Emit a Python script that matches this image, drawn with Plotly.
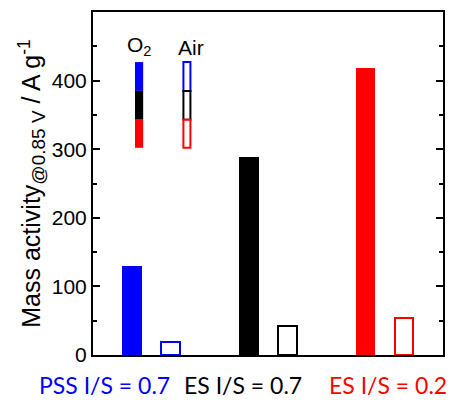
import plotly.graph_objects as go

categories = [1, 2, 3]
group_labels = ["PSS I/S = 0.7", "ES I/S = 0.7", "ES I/S = 0.2"]
group_colors = ["#0000ff", "#000000", "#ff0000"]
o2_values = [130, 289, 418]
air_values = [19, 43, 54]
y_ticks = [0, 100, 200, 300, 400, 500]

fig = go.Figure()
fig.add_trace(go.Bar(
    x=categories, y=o2_values, width=0.17, offset=-0.25,
    marker=dict(color=group_colors, line=dict(width=0)), showlegend=False))
fig.add_trace(go.Bar(
    x=categories, y=air_values, width=0.16, offset=0.085,
    marker=dict(color="white", line=dict(color=group_colors, width=2)), showlegend=False))

# legend inset
seg = [(427, 385), (385, 343), (343, 302)]
for (top, bot), c in zip(seg, group_colors):
    fig.add_shape(type="rect", xref="x", yref="y", x0=0.86, x1=0.93, y0=bot, y1=top,
                  fillcolor=c, line=dict(width=0), layer="above")
    fig.add_shape(type="rect", xref="x", yref="y", x0=1.275, x1=1.335, y0=bot, y1=top,
                  fillcolor="white", line=dict(color=c, width=2), layer="above")
fig.add_annotation(x=0.90, y=428, xref="x", yref="y", text="O<sub>2</sub>", showarrow=False,
                   yanchor="bottom", font=dict(family="Liberation Sans", size=21, color="black"))
fig.add_annotation(x=1.34, y=428, xref="x", yref="y", text="Air", showarrow=False,
                   yanchor="bottom", font=dict(family="Liberation Sans", size=21, color="black"))

# category labels below
for px, t, c in zip([37, 182, 327], group_labels, group_colors):
    fig.add_annotation(x=(px - 93) / 350, y=-0.04, xref="paper", yref="paper", text=t, showarrow=False,
                       xanchor="left", yanchor="top",
                       font=dict(family="Lato", size=23, color=c))

fig.update_layout(
    width=460, height=409,
    margin=dict(l=85, r=25, t=4, b=62, autoexpand=False),
    paper_bgcolor="white", plot_bgcolor="white",
    bargap=0,
    xaxis=dict(range=[0.5, 3.5], showticklabels=False, ticks="", showgrid=False, zeroline=False,
               showline=True, linecolor="black", linewidth=2, mirror=True, fixedrange=True,
               automargin=False),
    yaxis=dict(range=[0, 500], tickvals=y_ticks, ticks="inside", ticklen=7, tickwidth=2,
               tickcolor="black", showgrid=False, zeroline=False, automargin=False,
               showline=True, linecolor="black", linewidth=2, mirror="ticks",
               tickfont=dict(family="Liberation Sans", size=21, color="black"),
               minor=dict(dtick=50, ticks="inside", ticklen=4, tickwidth=2, tickcolor="black", showgrid=False),
               title=dict(text="Mass activity<sub><span style='font-size:19px'>@0.85 V</span></sub> / A g<sup>-1</sup>",
                          standoff=4,
                          font=dict(family="Liberation Sans", size=25, color="black"))),
)

fig.write_html("out.html", config={"displayModeBar": False})
